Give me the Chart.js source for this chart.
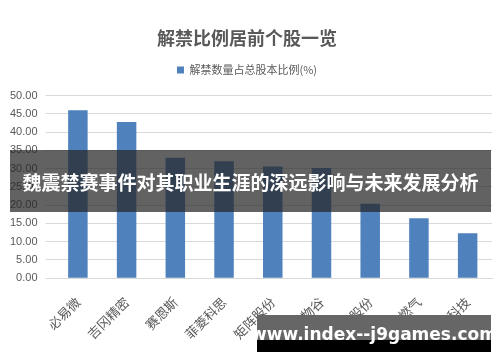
<!DOCTYPE html>
<html>
<head>
<meta charset="utf-8">
<script src="https://cdn.jsdelivr.net/npm/chart.js@4"></script>
<style>
  html, body { margin: 0; padding: 0; background: #fff; }
  #wrap { position: relative; width: 500px; height: 362px; overflow: hidden; }
  #chart { position: absolute; left: 0; top: 0; }
  .banner {
    position: absolute; left: 10px; top: 150px; width: 481px; height: 62px;
    background: rgba(38, 38, 38, 0.72); color: #fff;
    font: bold 19px 'Noto Sans CJK SC', sans-serif;
    display: flex; align-items: center; justify-content: center; white-space: nowrap;
  }
  .site {
    position: absolute; left: 257px; top: 315px; width: 234px; height: 37px;
    background: linear-gradient(#666 0, #666 68%, #000 68%, #000 100%);
    color: #fff; font: bold 17px 'DejaVu Sans', sans-serif;
    display: flex; align-items: center; justify-content: center; white-space: nowrap;
  }
</style>
</head>
<body>
<div id="wrap">
  <canvas id="chart" width="500" height="362"></canvas>
  <div class="banner">魏震禁赛事件对其职业生涯的深远影响与未来发展分析</div>
  <div class="site">www.index--j9games.com</div>
</div>
<script>
const stocks = ['必易微', '吉冈精密', '赛恩斯', '菲菱科思', '矩阵股份', '生物谷', '华绿股份', '水发燃气', '壹连科技'];
const unlockRatio = [46.0, 42.8, 33.0, 32.0, 30.6, 30.2, 20.4, 16.4, 12.3];
const seriesName = '解禁数量占总股本比例(%)';
const chartTitle = '解禁比例居前个股一览';

const textColor = '#595959';
const cjk = "'Noto Sans CJK SC', sans-serif";

// extra space between legend and plot area
const legendGap = {
  id: 'legendGap',
  beforeInit(chart) {
    const fit = chart.legend.fit;
    chart.legend.fit = function () {
      fit.call(this);
      this.height += 10;
    };
  }
};

new Chart(document.getElementById('chart').getContext('2d'), {
  type: 'bar',
  data: {
    labels: stocks,
    datasets: [{
      label: seriesName,
      data: unlockRatio,
      backgroundColor: '#4f81bd',
      borderWidth: 0,
      categoryPercentage: 1,
      barPercentage: 0.4
    }]
  },
  options: {
    responsive: false,
    animation: false,
    layout: { padding: { left: 2, right: 8, top: 27, bottom: 12 } },
    plugins: {
      title: {
        display: true, text: chartTitle, color: textColor,
        font: { family: cjk, size: 18, weight: 'bold' },
        padding: { top: 0, bottom: 0 }
      },
      legend: {
        labels: {
          color: textColor, font: { family: cjk, size: 11 },
          boxWidth: 7, boxHeight: 7, padding: 16
        }
      },
      tooltip: { enabled: false }
    },
    scales: {
      x: {
        grid: { display: false },
        border: { color: '#d9d9d9' },
        ticks: {
          color: textColor, font: { family: cjk, size: 13 },
          minRotation: 45, maxRotation: 45, padding: 8
        }
      },
      y: {
        min: 0, max: 50,
        grid: { color: '#d9d9d9' },
        border: { display: false },
        ticks: {
          stepSize: 5, color: textColor, font: { family: 'Liberation Sans', size: 11 },
          callback: v => v.toFixed(2), padding: 8
        }
      }
    }
  },
  plugins: [legendGap]
});
</script>
</body>
</html>
